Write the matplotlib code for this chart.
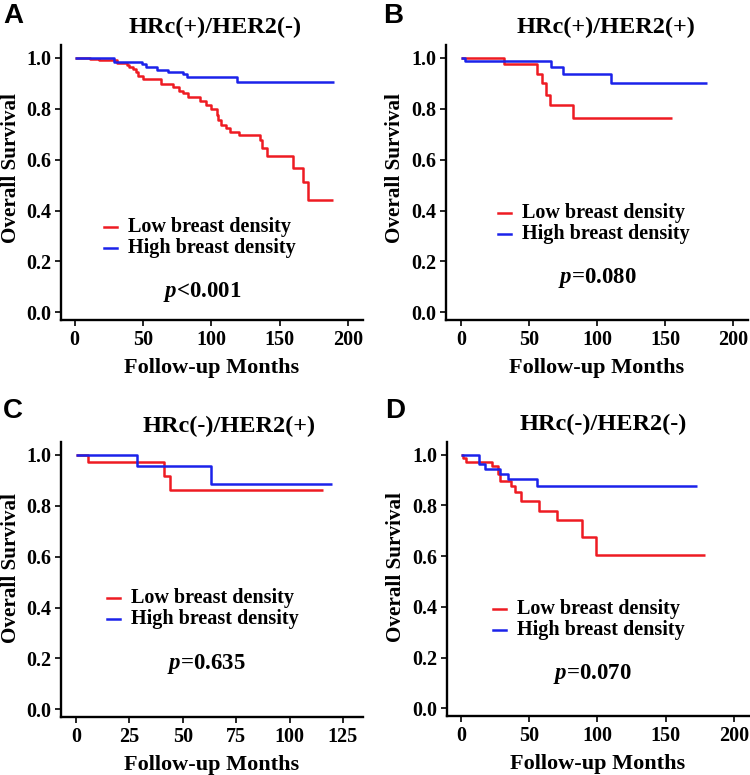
import matplotlib
matplotlib.use("Agg")
import matplotlib.pyplot as plt

plt.rcParams['font.family'] = ['Liberation Serif', 'DejaVu Serif']
plt.rcParams['font.weight'] = 'bold'
plt.rcParams['mathtext.fontset'] = 'custom'
plt.rcParams['mathtext.it'] = 'Liberation Serif:italic:bold'
plt.rcParams['mathtext.rm'] = 'Liberation Serif:bold'

RED = '#ee1b22'
BLUE = '#1b22ea'

# ---------------- data ----------------
titles = ["HRc(+)/HER2(-)", "HRc(+)/HER2(+)", "HRc(-)/HER2(+)", "HRc(-)/HER2(-)"]
panel_letters = ["A", "B", "C", "D"]
p_texts = [r"$p$<0.001", r"$p$=0.080", r"$p$=0.635", r"$p$=0.070"]
legend_labels = ["Low breast density", "High breast density"]

# Panel A
a_low_t = [0, 11, 18, 31, 38, 40, 43, 45, 46.5, 50, 63.5, 72, 76, 79, 83, 91.5, 96, 100,
           104, 105, 107, 111, 113.5, 120, 135.5, 137, 141, 160, 167, 170.5, 189]
a_low_s = [1.0, 0.995, 0.99, 0.98, 0.97, 0.965, 0.955, 0.945, 0.93, 0.918, 0.898, 0.886, 0.87,
           0.86, 0.847, 0.83, 0.815, 0.80, 0.776, 0.757, 0.737, 0.725, 0.71, 0.697, 0.677,
           0.646, 0.614, 0.567, 0.512, 0.44, 0.44]
a_high_t = [0, 29, 49, 52.5, 60, 68, 79, 82.5, 118.5, 190]
a_high_s = [1.0, 0.984, 0.975, 0.962, 0.952, 0.945, 0.938, 0.925, 0.903, 0.903]

# Panel B
b_low_t = [0, 32, 56, 59.5, 62.5, 65.5, 82, 155]
b_low_s = [1.0, 0.975, 0.935, 0.90, 0.855, 0.816, 0.762, 0.762]
b_high_t = [0, 3, 66, 75, 110, 181]
b_high_s = [1.0, 0.986, 0.962, 0.937, 0.90, 0.90]

# Panel C
c_low_t = [0, 5.5, 41, 44, 115.5]
c_low_s = [1.0, 0.973, 0.918, 0.862, 0.862]
c_high_t = [0, 28.5, 63, 120]
c_high_s = [1.0, 0.955, 0.886, 0.886]

# Panel D
d_low_t = [0, 1.5, 3.5, 22.4, 27.2, 28.5, 37, 39.4, 44.3, 57, 70.3, 88.8, 99, 179]
d_low_s = [1.0, 0.985, 0.97, 0.957, 0.924, 0.898, 0.878, 0.852, 0.816, 0.78, 0.741,
           0.676, 0.603, 0.603]
d_high_t = [0, 13, 17.5, 28.5, 34.5, 56, 173]
d_high_s = [1.0, 0.965, 0.945, 0.925, 0.906, 0.875, 0.875]

yticks = [0.0, 0.2, 0.4, 0.6, 0.8, 1.0]
xticks_200 = [0, 50, 100, 150, 200]
xticks_125 = [0, 25, 50, 75, 100, 125]

panels = [
    dict(low=(a_low_t, a_low_s), high=(a_high_t, a_high_s), xticks=xticks_200, xlim=(-10, 211),
         rect=(61, 45, 363, 320), ptxt=(93, 0.08), leg_y=227, leg_x=104, ylab_xy=(11, 168),
         title_xy=(215, 33), letter_xy=(3, 23)),
    dict(low=(b_low_t, b_low_s), high=(b_high_t, b_high_s), xticks=xticks_200, xlim=(-11, 211),
         rect=(446, 45, 748, 320), ptxt=(100, 0.134), leg_y=213, leg_x=498, ylab_xy=(395, 168),
         title_xy=(606, 33), letter_xy=(383, 23)),
    dict(low=(c_low_t, c_low_s), high=(c_high_t, c_high_s), xticks=xticks_125, xlim=(-7, 134.4),
         rect=(61, 442, 363, 717), ptxt=(61, 0.18), leg_y=598, leg_x=107, ylab_xy=(11, 568),
         title_xy=(229, 432), letter_xy=(3, 418)),
    dict(low=(d_low_t, d_low_s), high=(d_high_t, d_high_s), xticks=xticks_200, xlim=(-10.2, 211),
         rect=(447, 442, 749, 716), ptxt=(96, 0.137), leg_y=609, leg_x=493, ylab_xy=(396, 567),
         title_xy=(603, 430), letter_xy=(385, 418)),
]

W, H = 750, 775
fig = plt.figure(figsize=(W / 100, H / 100), dpi=100)

for i, p in enumerate(panels):
    l, t, r, b = p['rect']
    ax = fig.add_axes([l / W, 1 - b / H, (r - l) / W, (b - t) / H])
    lt, ls = p['low']
    ht, hs = p['high']
    ax.step(lt, ls, where='post', color=RED, lw=1.8, solid_capstyle='butt')
    ax.step(ht, hs, where='post', color=BLUE, lw=1.8, solid_capstyle='butt')
    ax.set_xlim(*p['xlim'])
    ax.set_ylim(-0.03, 1.05)
    ax.set_xticks(p['xticks'])
    ax.set_yticks(yticks)
    ax.set_yticklabels([f"{v:.1f}" for v in yticks])
    for s in ['top', 'right']:
        ax.spines[s].set_visible(False)
    for s in ['left', 'bottom']:
        ax.spines[s].set_linewidth(1.7)
    ax.tick_params(axis='both', direction='out', length=4, width=1.2, labelsize=14.5, pad=3)
    for lab in ax.get_xticklabels() + ax.get_yticklabels():
        lab.set_fontweight('bold')
    ax.set_xlabel("Follow-up Months", fontsize=16, fontweight='bold', labelpad=6)
    ax.set_ylabel("Overall Survival", fontsize=15.2, fontweight='bold')
    ax.yaxis.label.set_va('center')
    lx, ly = p['ylab_xy']
    ax.yaxis.set_label_coords(-(l - lx) / (r - l), (b - ly) / (b - t))
    ax.text(p['ptxt'][0], p['ptxt'][1], p_texts[i], fontsize=16.5, fontweight='bold',
            ha='center', va='center')
    # legend (manual, pixel-placed)
    for k, (lab, col) in enumerate(zip(legend_labels, [RED, BLUE])):
        yy = 1 - (p['leg_y'] + 21 * k) / H
        x0 = p['leg_x'] / W
        fig.add_artist(plt.Line2D([x0, x0 + 13 / W], [yy, yy], color=col, lw=1.8,
                                  transform=fig.transFigure))
        fig.text(x0 + 24 / W, yy, lab, fontsize=14.5, fontweight='bold', va='center', ha='left')
    fig.text(p['title_xy'][0] / W, 1 - p['title_xy'][1] / H, titles[i], fontsize=17.5,
             fontweight='bold', ha='center', va='baseline')
    fig.text(p['letter_xy'][0] / W, 1 - p['letter_xy'][1] / H, panel_letters[i],
             fontsize=20, fontweight='bold', family=['Liberation Sans', 'DejaVu Sans'],
             ha='left', va='baseline')

fig.savefig("out.png", dpi=100)
